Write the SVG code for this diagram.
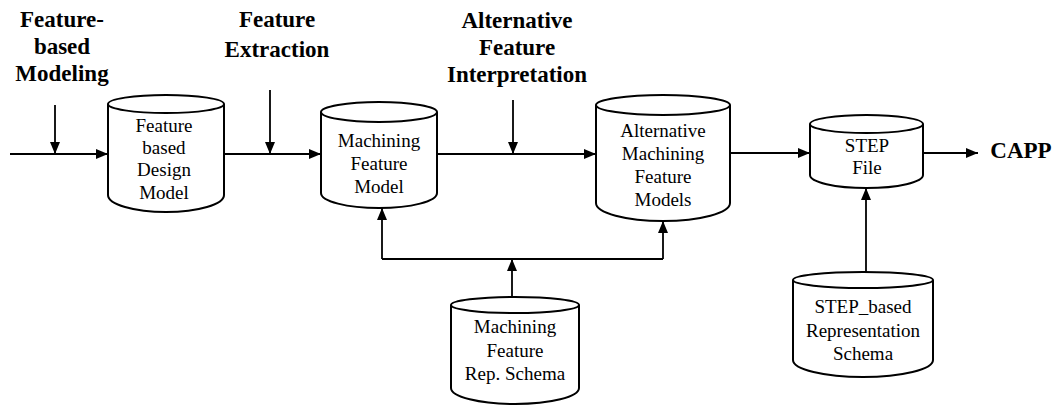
<svg xmlns="http://www.w3.org/2000/svg" width="1059" height="407" viewBox="0 0 1059 407">
  <style>
    .cyl { fill: #ffffff; stroke: #000000; stroke-width: 2; }
    .lbl { font-family: "Liberation Serif", "Times New Roman", serif; font-size: 19px; fill: #000000; text-anchor: middle; }
    .head { font-family: "Liberation Serif", "Times New Roman", serif; font-size: 23px; font-weight: bold; fill: #000000; text-anchor: middle; }
    .wire { fill: none; stroke: #000000; stroke-width: 1.8; }
  </style>
  <defs>
    <marker id="ah" viewBox="0 0 12 10" refX="12" refY="5" markerWidth="12" markerHeight="10" orient="auto" markerUnits="userSpaceOnUse">
      <path d="M0,0 L12,5 L0,10 z" fill="#000000"/>
    </marker>
  </defs>
  <rect width="1059" height="407" fill="#ffffff"/>

  <!-- activity headings -->
  <g id="label-feature-based-modeling">
    <text class="head" x="62" y="27">Feature-</text>
    <text class="head" x="62" y="54">based</text>
    <text class="head" x="62" y="81">Modeling</text>
  </g>
  <g id="label-feature-extraction">
    <text class="head" x="277" y="27">Feature</text>
    <text class="head" x="277" y="57">Extraction</text>
  </g>
  <g id="label-alt-interpretation">
    <text class="head" x="517" y="28">Alternative</text>
    <text class="head" x="517" y="55">Feature</text>
    <text class="head" x="517" y="82">Interpretation</text>
  </g>
  <g id="label-capp">
    <text class="head" x="1021" y="158" font-size="22">CAPP</text>
  </g>

  <!-- connectors -->
  <g id="connectors" class="wire">
    <line x1="10" y1="154" x2="108" y2="154" marker-end="url(#ah)"/>
    <line x1="55" y1="105" x2="55" y2="154" marker-end="url(#ah)"/>
    <line x1="224" y1="154" x2="321" y2="154" marker-end="url(#ah)"/>
    <line x1="270" y1="90" x2="270" y2="154" marker-end="url(#ah)"/>
    <line x1="437" y1="154" x2="596" y2="154" marker-end="url(#ah)"/>
    <line x1="513" y1="100" x2="513" y2="154" marker-end="url(#ah)"/>
    <line x1="730" y1="153" x2="810" y2="153" marker-end="url(#ah)"/>
    <line x1="923" y1="153" x2="978" y2="153" marker-end="url(#ah)"/>
    <line x1="866" y1="272" x2="866" y2="188" marker-end="url(#ah)"/>
    <polyline points="382,259 663,259"/>
    <line x1="382" y1="259" x2="382" y2="208" marker-end="url(#ah)"/>
    <line x1="663" y1="259" x2="663" y2="221" marker-end="url(#ah)"/>
    <line x1="512" y1="297" x2="512" y2="259" marker-end="url(#ah)"/>
  </g>

  <!-- data stores -->
  <g id="store-design-model">
    <path class="cyl" d="M108,104 L108,195 A58,17 0 0 0 224,195 L224,104"/>
    <ellipse class="cyl" cx="166" cy="104" rx="58" ry="9"/>
    <text class="lbl" x="164" y="132">Feature</text>
    <text class="lbl" x="164" y="154">based</text>
    <text class="lbl" x="164" y="176">Design</text>
    <text class="lbl" x="164" y="199">Model</text>
  </g>
  <g id="store-machining-model">
    <path class="cyl" d="M321,112 L321,193 A58,15 0 0 0 437,193 L437,112"/>
    <ellipse class="cyl" cx="379" cy="112" rx="58" ry="10"/>
    <text class="lbl" x="379" y="147">Machining</text>
    <text class="lbl" x="379" y="170">Feature</text>
    <text class="lbl" x="379" y="193">Model</text>
  </g>
  <g id="store-alt-models">
    <path class="cyl" d="M596,105 L596,203 A67,18 0 0 0 730,203 L730,105"/>
    <ellipse class="cyl" cx="663" cy="105" rx="67" ry="10"/>
    <text class="lbl" x="663" y="137">Alternative</text>
    <text class="lbl" x="663" y="160">Machining</text>
    <text class="lbl" x="663" y="183">Feature</text>
    <text class="lbl" x="663" y="206">Models</text>
  </g>
  <g id="store-rep-schema">
    <path class="cyl" d="M451,305 L451,388 A64,16 0 0 0 579,388 L579,305"/>
    <ellipse class="cyl" cx="515" cy="305" rx="64" ry="8"/>
    <text class="lbl" x="515" y="333">Machining</text>
    <text class="lbl" x="515" y="357">Feature</text>
    <text class="lbl" x="515" y="380">Rep. Schema</text>
  </g>
  <g id="store-step-file">
    <path class="cyl" d="M810,124 L810,175 A56.5,13 0 0 0 923,175 L923,124"/>
    <ellipse class="cyl" cx="866.5" cy="124" rx="56.5" ry="9"/>
    <text class="lbl" x="867" y="152">STEP</text>
    <text class="lbl" x="867" y="174">File</text>
  </g>
  <g id="store-step-schema">
    <path class="cyl" d="M793,280 L793,360 A70,17 0 0 0 933,360 L933,280"/>
    <ellipse class="cyl" cx="863" cy="280" rx="70" ry="8"/>
    <text class="lbl" x="863" y="313">STEP_based</text>
    <text class="lbl" x="863" y="337">Representation</text>
    <text class="lbl" x="863" y="360">Schema</text>
  </g>
</svg>
